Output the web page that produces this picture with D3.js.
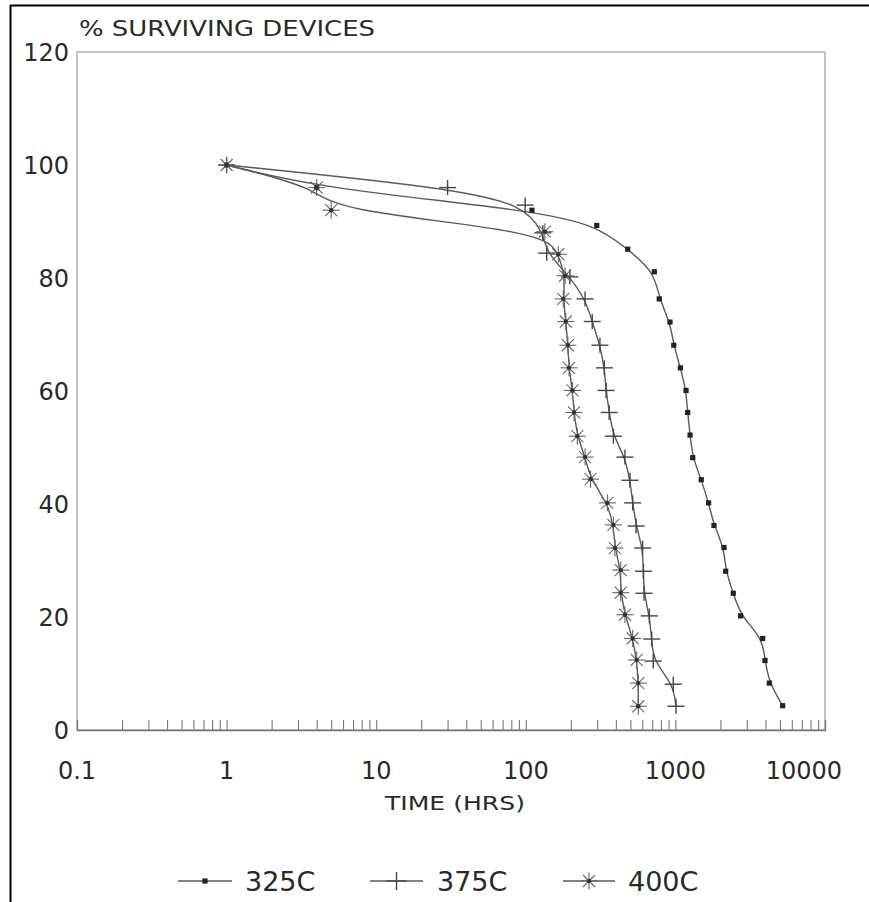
<!DOCTYPE html>
<html>
<head>
<meta charset="utf-8">
<script src="https://cdn.jsdelivr.net/npm/d3@7"></script>
<style>
  html, body { margin: 0; padding: 0; background: #fff; }
  svg { display: block; }
  text { font-family: "DejaVu Sans", "Liberation Sans", sans-serif; fill: #2a2a2a; }
</style>
</head>
<body>
<svg id="chart" width="869" height="902"></svg>
<script>
// Survival of devices over time at three stress temperatures
const hours325 = [1, 4, 110, 298, 480, 723, 780, 920, 975, 1080, 1178, 1208, 1253, 1306, 1489, 1667, 1810, 2113, 2168, 2438, 2730, 3834, 3972, 4245, 5210];
const pct325   = [100, 96, 92, 89.3, 85.1, 81.1, 76.3, 72.2, 68.1, 64.1, 60.1, 56.2, 52.2, 48.2, 44.3, 40.2, 36.2, 32.3, 28.1, 24.2, 20.2, 16.2, 12.3, 8.3, 4.3];

const hours375 = [1, 30, 99, 130, 138, 197, 249, 278, 313, 335, 344, 361, 385, 460, 497, 518, 546, 604, 611, 617, 670, 694, 711, 968, 1009];
const pct375   = [100, 96, 92.9, 88, 84.4, 80.2, 76.3, 72.3, 68.1, 64.1, 60.1, 56.2, 52.0, 48.3, 44.2, 40.2, 36.1, 32.2, 28.1, 24.2, 20.2, 16.1, 12.2, 8.1, 4.2];

const hours400 = [1, 4, 5, 134, 165, 183, 178, 185, 191, 194.5, 205, 210, 221, 249, 271, 351, 385, 394, 431, 431, 460, 518, 551, 565, 565];
const pct400   = [100, 96, 92, 88.2, 84.2, 80.4, 76.3, 72.3, 68.1, 64.1, 60.1, 56.2, 52.0, 48.3, 44.4, 40.2, 36.3, 32.2, 28.3, 24.3, 20.4, 16.2, 12.4, 8.3, 4.2];

const seriesNames = ["325C", "375C", "400C"];
const markerKinds = ["dot", "plus", "star"];

const xTickValues = [0.1, 1, 10, 100, 1000, 10000];
const xTickLabels = ["0.1", "1", "10", "100", "1000", "10000"];
const yTickValues = [0, 20, 40, 60, 80, 100, 120];

const titleText = "% SURVIVING DEVICES";
const xTitleText = "TIME (HRS)";

const series = [
  { name: seriesNames[0], kind: markerKinds[0], pts: hours325.map((h, i) => [h, pct325[i]]) },
  { name: seriesNames[1], kind: markerKinds[1], pts: hours375.map((h, i) => [h, pct375[i]]) },
  { name: seriesNames[2], kind: markerKinds[2], pts: hours400.map((h, i) => [h, pct400[i]]) }
];

const svg = d3.select("#chart");

// page frame lines (left and top)
svg.append("line").attr("x1", 10.5).attr("x2", 10.5).attr("y1", 5).attr("y2", 902)
  .attr("stroke", "#000").attr("stroke-width", 2);
svg.append("line").attr("x1", 10).attr("x2", 869).attr("y1", 5.5).attr("y2", 5.5)
  .attr("stroke", "#000").attr("stroke-width", 2);

const plot = { left: 77, top: 52, right: 825, bottom: 730 };

const x = d3.scaleLog().domain([0.1, 10000]).range([plot.left, plot.right]);
const y = d3.scaleLinear().domain([0, 120]).range([plot.bottom, plot.top]);

const lineColor = "#5a5a5a";

// plot box
svg.append("rect")
  .attr("x", plot.left).attr("y", plot.top)
  .attr("width", plot.right - plot.left).attr("height", plot.bottom - plot.top)
  .attr("fill", "none").attr("stroke", "#9a9a9a").attr("stroke-width", 1.2);

// log minor + major ticks along the time axis, pointing up into the plot
const minorTicks = [];
for (let e = -1; e < 4; e++) {
  for (let m = 2; m <= 10; m++) minorTicks.push(m * Math.pow(10, e));
}
const xAxis = d3.axisTop(x).tickValues(minorTicks).tickSize(10).tickFormat("");
const gx = svg.append("g").attr("transform", `translate(0,${plot.bottom})`).call(xAxis);
gx.select(".domain").attr("stroke", "#777").attr("stroke-width", 1.3);
gx.selectAll(".tick line").attr("stroke", "#777").attr("stroke-width", 1.1);

// x tick labels
svg.append("g").selectAll("text")
  .data(xTickValues)
  .join("text")
  .attr("x", (d, i) => i === xTickValues.length - 1 ? x(d) + 17 : x(d))
  .attr("y", 779)
  .attr("text-anchor", (d, i) => i === xTickValues.length - 1 ? "end" : "middle")
  .attr("font-size", 24)
  .text((d, i) => xTickLabels[i]);

// y tick labels
svg.append("g").selectAll("text")
  .data(yTickValues)
  .join("text")
  .attr("x", 69)
  .attr("y", d => y(d) + 8.5)
  .attr("text-anchor", "end")
  .attr("font-size", 24)
  .text(d => d);

// titles
svg.append("text").attr("x", 79).attr("y", 36)
  .style("font-size", "21px").attr("textLength", 296).attr("lengthAdjust", "spacingAndGlyphs")
  .text(titleText);
svg.append("text").attr("x", 385).attr("y", 810)
  .style("font-size", "20px").attr("textLength", 140).attr("lengthAdjust", "spacingAndGlyphs")
  .text(xTitleText);

// marker drawing
function drawMarker(g, kind, cx, cy, scale = 1) {
  if (kind === "dot") {
    g.append("rect").attr("x", cx - 2.6).attr("y", cy - 2.6).attr("width", 5.2).attr("height", 5.2)
      .attr("fill", "#222");
  } else if (kind === "plus") {
    g.append("line").attr("x1", cx - 8.5 * scale).attr("x2", cx + 8.5 * scale).attr("y1", cy).attr("y2", cy)
      .attr("stroke", "#444").attr("stroke-width", 1.4);
    g.append("line").attr("x1", cx).attr("x2", cx).attr("y1", cy - 7.5 * scale).attr("y2", cy + 7.5 * scale)
      .attr("stroke", "#444").attr("stroke-width", 1.4);
  } else {
    const r = 8.5;
    for (let k = 0; k < 4; k++) {
      const a = k * Math.PI / 4;
      g.append("line")
        .attr("x1", cx - r * Math.cos(a)).attr("y1", cy - r * Math.sin(a))
        .attr("x2", cx + r * Math.cos(a)).attr("y2", cy + r * Math.sin(a))
        .attr("stroke", "#666").attr("stroke-width", 1.1);
    }
    g.append("circle").attr("cx", cx).attr("cy", cy).attr("r", 2.2).attr("fill", "#333");
  }
}

const line = d3.line().curve(d3.curveBasis).x(d => x(d[0])).y(d => y(d[1]));

const gPlot = svg.append("g");
series.forEach(s => {
  gPlot.append("path").attr("d", line(s.pts))
    .attr("fill", "none").attr("stroke", lineColor).attr("stroke-width", 1.4);
});
series.forEach(s => {
  const gm = gPlot.append("g");
  s.pts.forEach(p => drawMarker(gm, s.kind, x(p[0]), y(p[1])));
});

// legend
const legendItems = [
  { x0: 178, x1: 232, tx: 245 },
  { x0: 370, x1: 423, tx: 437 },
  { x0: 563, x1: 615, tx: 628 }
];
const lg = svg.append("g");
series.forEach((s, i) => {
  const it = legendItems[i];
  const ly = 881;
  lg.append("line").attr("x1", it.x0).attr("x2", it.x1).attr("y1", ly).attr("y2", ly)
    .attr("stroke", lineColor).attr("stroke-width", 1.4);
  drawMarker(lg, s.kind, (it.x0 + it.x1) / 2, ly, s.kind === "plus" ? 1.2 : 1);
  lg.append("text").attr("x", it.tx).attr("y", ly + 10).attr("font-size", 27).text(s.name);
});
</script>
</body>
</html>
